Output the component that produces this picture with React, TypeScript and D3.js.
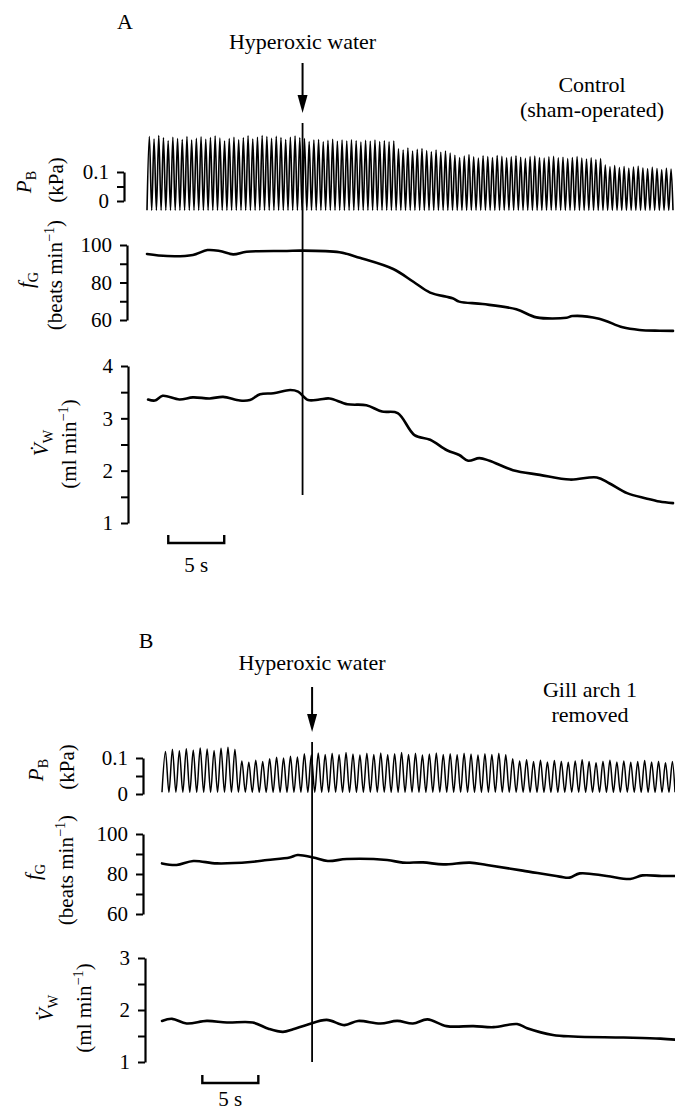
import React, { useEffect, useRef } from 'react';
import * as d3 from 'd3';

// ---- Panel A (control, sham-operated) ----
// heart rate trace: time (s) / beats min-1
const fgTimeA = [0, 1.8, 4.1, 5.4, 6.5, 7.7, 8.9, 12.5, 13.7, 17.2, 19.0, 22.0, 23.8, 25.3, 27.3, 27.9, 30.0, 33.0, 34.8, 37.5, 38.0, 40.4, 42.5, 44.0, 45.8, 47];
const fgRateA = [95.2, 94.1, 94.7, 97.3, 96.8, 95.0, 96.4, 96.8, 97.0, 96.1, 93.2, 87.2, 80.4, 74.6, 71.6, 69.8, 68.5, 65.7, 61.4, 61.2, 62.1, 60.7, 56.1, 54.7, 54.3, 54.2];
// ventilation volume trace: time (s) / ml min-1
const vwTimeA = [0.1, 0.7, 1.4, 2.9, 4.1, 5.6, 6.8, 8.3, 9.2, 10.1, 11.3, 12.8, 13.5, 14.4, 15.4, 16.3, 17.9, 19.6, 21.0, 22.4, 23.9, 25.3, 26.8, 27.9, 28.7, 29.7, 30.6, 32.7, 35.1, 37.8, 40.2, 41.3, 42.9, 44.6, 45.8, 47];
const vwFlowA = [3.36, 3.34, 3.43, 3.36, 3.40, 3.38, 3.41, 3.34, 3.35, 3.46, 3.48, 3.54, 3.51, 3.35, 3.36, 3.38, 3.27, 3.25, 3.13, 3.10, 2.68, 2.59, 2.39, 2.30, 2.19, 2.24, 2.19, 2.01, 1.92, 1.83, 1.87, 1.76, 1.57, 1.47, 1.41, 1.38];
// buccal pressure: peak of each breath (kPa)
const pbPeaksA = [
  0.222, 0.214, 0.226, 0.218, 0.208, 0.220, 0.215, 0.212, 0.222, 0.210, 0.216, 0.221, 0.213, 0.219, 0.224, 0.217, 0.207,
  0.215, 0.220, 0.211, 0.218, 0.225, 0.214, 0.220, 0.226, 0.222, 0.216, 0.223, 0.219, 0.212, 0.220, 0.224, 0.218,
  0.215, 0.205, 0.210, 0.212, 0.204, 0.209, 0.213, 0.206, 0.210, 0.207, 0.211, 0.208, 0.203, 0.209, 0.206, 0.210, 0.205, 0.208, 0.204, 0.207,
  0.180, 0.176, 0.183, 0.172, 0.178, 0.181, 0.174, 0.170, 0.176, 0.168, 0.172, 0.165,
  0.158, 0.150, 0.155, 0.160, 0.152, 0.148, 0.156, 0.153, 0.150, 0.157, 0.154, 0.149, 0.152, 0.156, 0.151, 0.147,
  0.153, 0.155, 0.150, 0.148, 0.152, 0.154, 0.149, 0.151, 0.146, 0.150, 0.153, 0.148, 0.145, 0.149, 0.143, 0.146,
  0.124, 0.118, 0.122, 0.115, 0.119, 0.113, 0.117, 0.120, 0.114, 0.111, 0.116, 0.112, 0.108, 0.113, 0.110,
];
const pbTroughA = -0.032;
const breathPeriodA = 0.42; // s
const hyperoxiaA = 13.9; // s
const scaleBarA = 1.9; // s, start of the 5 s bar

// ---- Panel B (gill arch 1 removed) ----
const fgTimeB = [0, 1.3, 2.8, 4.9, 7.9, 9.4, 11.4, 12.1, 13.5, 14.8, 16.5, 20.1, 21.5, 23.3, 25.1, 27.5, 29.0, 32.2, 35.5, 36.4, 37.3, 39.7, 41.8, 42.9, 44.6, 45.8];
const fgRateB = [85.3, 84.5, 86.5, 85.3, 86.0, 87.0, 88.3, 89.5, 88.3, 86.5, 87.5, 87.0, 85.7, 85.8, 84.8, 85.7, 84.5, 81.7, 78.7, 78.2, 80.3, 79.0, 77.5, 79.3, 79.0, 79.0];
const vwTimeB = [0, 0.9, 2.2, 4.0, 5.8, 8.1, 9.5, 10.8, 11.7, 12.9, 14.7, 16.3, 17.5, 19.5, 21.0, 22.4, 23.7, 25.4, 27.8, 29.6, 31.7, 32.6, 34.9, 36.7, 41.2, 44.5, 45.8];
const vwFlowB = [1.79, 1.83, 1.74, 1.79, 1.76, 1.76, 1.64, 1.58, 1.63, 1.71, 1.81, 1.71, 1.79, 1.74, 1.79, 1.74, 1.82, 1.69, 1.69, 1.67, 1.73, 1.65, 1.52, 1.49, 1.47, 1.45, 1.43];
const pbPeaksB = [
  0.118, 0.124, 0.120, 0.126, 0.122, 0.128, 0.125, 0.121, 0.127, 0.130, 0.124,
  0.092, 0.088, 0.094, 0.090,
  0.098, 0.102, 0.100, 0.105, 0.103,
  0.112, 0.108, 0.114, 0.110, 0.113, 0.109, 0.115, 0.111, 0.108, 0.113, 0.110, 0.114, 0.109, 0.112, 0.115,
  0.110, 0.113, 0.108, 0.111, 0.114, 0.110, 0.112, 0.109, 0.113, 0.111, 0.108, 0.112, 0.110, 0.113, 0.109,
  0.098, 0.092, 0.095, 0.090, 0.094, 0.089, 0.093, 0.091, 0.088, 0.092, 0.095, 0.090,
  0.087, 0.091, 0.094, 0.089, 0.092, 0.088, 0.090, 0.093, 0.089, 0.091, 0.087, 0.090,
];
const pbTroughB = 0.005;
const breathPeriodB = 0.62;
const hyperoxiaB = 13.4;
const scaleBarB = 3.6;

const serif = '"Liberation Serif", "Times New Roman", Times, "DejaVu Serif", serif';

type Part = { t: string; italic?: boolean; sub?: boolean; sup?: boolean };
type Sel = d3.Selection<SVGSVGElement, unknown, null, undefined>;
type Lin = d3.ScaleLinear<number, number>;

const App: React.FC = () => {
  const ref = useRef<SVGSVGElement | null>(null);

  useEffect(() => {
    const svg = d3.select(ref.current) as Sel;
    svg.selectAll('*').remove();

    const text = (x: number, y: number, s: string, size = 22, anchor = 'middle') =>
      svg.append('text')
        .attr('x', x).attr('y', y)
        .attr('text-anchor', anchor)
        .style('font-family', serif)
        .style('font-size', `${size}px`)
        .text(s);

    // rotated axis title built from tspans
    const rotLabel = (x: number, y: number, parts: Part[], size = 21) => {
      const t = svg.append('text')
        .attr('transform', `translate(${x},${y}) rotate(-90)`)
        .attr('text-anchor', 'middle')
        .style('font-family', serif)
        .style('font-size', `${size}px`);
      let shift = 0;
      parts.forEach(p => {
        const target = p.sub ? 5 : p.sup ? -8 : 0;
        const ts = t.append('tspan').attr('dy', target - shift).text(p.t);
        shift = target;
        if (p.italic) ts.style('font-style', 'italic');
        if (p.sub || p.sup) ts.style('font-size', `${size * 0.68}px`);
      });
    };

    const yAxis = (x: number, y: Lin, values: number[], labelled: number[], fmt: (d: number) => string) => {
      const g = svg.append('g').attr('transform', `translate(${x},0)`);
      g.call(
        d3.axisLeft(y)
          .tickValues(values)
          .tickSize(7)
          .tickSizeOuter(0)
          .tickPadding(8)
          .tickFormat(d => (labelled.includes(+d) ? fmt(+d) : ''))
      );
      g.attr('font-family', null).attr('font-size', null);
      g.select('.domain').attr('stroke', '#000').attr('stroke-width', 2.2);
      g.selectAll('.tick line').attr('stroke', '#000').attr('stroke-width', 2);
      g.selectAll('.tick text')
        .style('font-family', serif)
        .style('font-size', '21px')
        .attr('fill', '#000');
    };

    const trace = (x: Lin, y: Lin, ts: number[], vs: number[], w = 2.6) => {
      const line = d3.line<number>()
        .x((_, i) => x(ts[i]))
        .y(d => y(d))
        .curve(d3.curveCatmullRom.alpha(0.5));
      svg.append('path')
        .attr('d', line(vs))
        .attr('fill', 'none')
        .attr('stroke', '#000')
        .attr('stroke-width', w)
        .attr('stroke-linejoin', 'round')
        .attr('stroke-linecap', 'round');
    };

    const breathing = (x: Lin, y: Lin, peaks: number[], trough: number, period: number, w: number) => {
      const pts: [number, number][] = [];
      peaks.forEach((p, i) => {
        pts.push([i * period, trough]);
        pts.push([(i + 0.5) * period, p]);
      });
      pts.push([peaks.length * period, trough]);
      const line = d3.line<[number, number]>()
        .x(d => x(Math.min(d[0], x.domain()[1])))
        .y(d => y(d[1]))
        .curve(d3.curveMonotoneX);
      svg.append('path')
        .attr('d', line(pts))
        .attr('fill', 'none')
        .attr('stroke', '#000')
        .attr('stroke-width', w);
    };

    const arrow = (x: number, y0: number, y1: number) => {
      svg.append('line')
        .attr('x1', x).attr('x2', x).attr('y1', y0).attr('y2', y1 - 14)
        .attr('stroke', '#000').attr('stroke-width', 2);
      svg.append('path')
        .attr('d', `M${x - 5},${y1 - 18}L${x + 5},${y1 - 18}L${x},${y1}Z`)
        .attr('fill', '#000');
    };

    const scaleBar = (x: Lin, t0: number, y: number, labelY: number) => {
      const xa = x(t0), xb = x(t0 + 5);
      svg.append('path')
        .attr('d', `M${xa},${y - 8}V${y}H${xb}V${y - 8}`)
        .attr('fill', 'none')
        .attr('stroke', '#000')
        .attr('stroke-width', 2.4);
      text((xa + xb) / 2, labelY, '5 s', 21);
    };

    const fmtNum = (d: number) => String(d);

    // ================= Panel A =================
    const xA = d3.scaleLinear().domain([0, 47]).range([147, 673]);
    const pbA = d3.scaleLinear().domain([0, 0.1]).range([201, 172]);
    const fgA = d3.scaleLinear().domain([60, 100]).range([320, 245]);
    const vwA = d3.scaleLinear().domain([1, 4]).range([523, 366]);

    text(125, 29, 'A', 22);
    text(xA(hyperoxiaA), 49, 'Hyperoxic water', 22);
    arrow(xA(hyperoxiaA), 63, 113);
    text(592, 92, 'Control', 22);
    text(592, 117, '(sham-operated)', 22);

    breathing(xA, pbA, pbPeaksA, pbTroughA, breathPeriodA, 1.6);
    trace(xA, fgA, fgTimeA, fgRateA);
    trace(xA, vwA, vwTimeA, vwFlowA);

    svg.append('line')
      .attr('x1', xA(hyperoxiaA)).attr('x2', xA(hyperoxiaA))
      .attr('y1', 123).attr('y2', 495)
      .attr('stroke', '#000').attr('stroke-width', 1.8);

    yAxis(124, pbA, [0, 0.05, 0.1], [0, 0.1], fmtNum);
    yAxis(127, fgA, [60, 70, 80, 90, 100], [60, 80, 100], fmtNum);
    yAxis(128, vwA, [1, 1.5, 2, 2.5, 3, 3.5, 4], [1, 2, 3, 4], fmtNum);

    rotLabel(31, 182, [{ t: 'P', italic: true }, { t: 'B', sub: true }]);
    rotLabel(63, 180, [{ t: '(kPa)' }]);
    rotLabel(33, 280, [{ t: 'f', italic: true }, { t: 'G', sub: true }]);
    rotLabel(62, 275, [{ t: '(beats min' }, { t: '\u22121', sup: true }, { t: ')' }]);
    rotLabel(48, 443, [{ t: 'V\u0307', italic: true }, { t: 'W', sub: true }]);
    rotLabel(76, 444, [{ t: '(ml min' }, { t: '\u22121', sup: true }, { t: ')' }]);

    scaleBar(xA, scaleBarA, 543, 572);

    // ================= Panel B =================
    const xB = d3.scaleLinear().domain([0, 45.8]).range([162, 675]);
    const pbB = d3.scaleLinear().domain([0, 0.1]).range([794, 758]);
    const fgB = d3.scaleLinear().domain([60, 100]).range([914, 834]);
    const vwB = d3.scaleLinear().domain([1, 3]).range([1062, 958]);

    text(146, 648, 'B', 22);
    text(xB(hyperoxiaB), 670, 'Hyperoxic water', 22);
    arrow(xB(hyperoxiaB), 687, 732);
    text(590, 697, 'Gill arch 1', 22);
    text(590, 722, 'removed', 22);

    breathing(xB, pbB, pbPeaksB, pbTroughB, breathPeriodB, 1.5);
    trace(xB, fgB, fgTimeB, fgRateB);
    trace(xB, vwB, vwTimeB, vwFlowB);

    svg.append('line')
      .attr('x1', xB(hyperoxiaB)).attr('x2', xB(hyperoxiaB))
      .attr('y1', 742).attr('y2', 1062)
      .attr('stroke', '#000').attr('stroke-width', 1.8);

    yAxis(143, pbB, [0, 0.05, 0.1], [0, 0.1], fmtNum);
    yAxis(143, fgB, [60, 70, 80, 90, 100], [60, 80, 100], fmtNum);
    yAxis(145, vwB, [1, 1.5, 2, 2.5, 3], [1, 2, 3], fmtNum);

    rotLabel(43, 770, [{ t: 'P', italic: true }, { t: 'B', sub: true }]);
    rotLabel(74, 767, [{ t: '(kPa)' }]);
    rotLabel(40, 872, [{ t: 'f', italic: true }, { t: 'G', sub: true }]);
    rotLabel(73, 870, [{ t: '(beats min' }, { t: '\u22121', sup: true }, { t: ')' }]);
    rotLabel(53, 1008, [{ t: 'V\u0307', italic: true }, { t: 'W', sub: true }]);
    rotLabel(91, 1008, [{ t: '(ml min' }, { t: '\u22121', sup: true }, { t: ')' }]);

    scaleBar(xB, scaleBarB, 1083, 1106);
  }, []);

  return (
    <svg
      ref={ref}
      width={675}
      height={1114}
      style={{ position: 'absolute', left: 0, top: 0, background: '#fff' }}
    />
  );
};

export default App;
